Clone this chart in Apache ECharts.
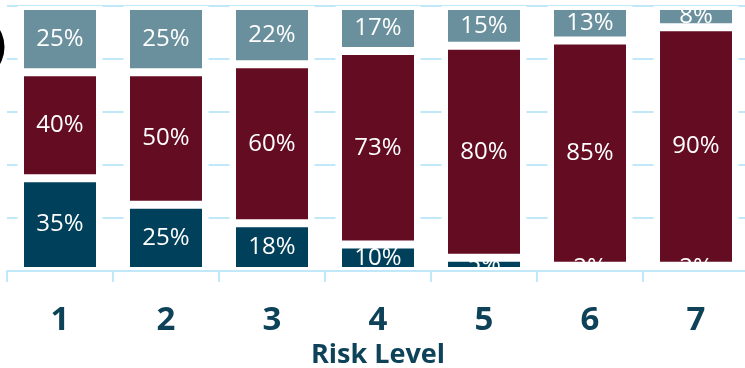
<!DOCTYPE html>
<html><head><meta charset="utf-8">
<script src="https://cdn.jsdelivr.net/npm/echarts@6/dist/echarts.min.js"></script>
<style>html,body{margin:0;padding:0;background:#fff;}#c{width:745px;height:368px;}</style>
</head><body><div id="c"></div>
<script>
var categories = ['1','2','3','4','5','6','7'];
var lowValues = [35, 25, 18, 10, 5, 2, 2];
var midValues = [40, 50, 60, 73, 80, 85, 90];
var highValues = [25, 25, 22, 17, 15, 13, 8];
var haloValues = [100, 100, 100, 100, 100, 100, 100];
var axisName = 'Risk Level';

var chart = echarts.init(document.getElementById('c'), null, {renderer: 'canvas'});
var labelFont = {show: true, position: 'inside', color: '#ffffff', fontSize: 24, fontFamily: 'Open Sans', formatter: '{c}%'};
function seg(name, data, color) {
  return {
    name: name, type: 'bar', stack: 'total', data: data, barWidth: 80, xAxisIndex: 0,
    itemStyle: {color: color, borderColor: '#ffffff', borderWidth: 4},
    label: labelFont, z: 3
  };
}
chart.setOption({
  animation: false,
  backgroundColor: '#ffffff',
  grid: {left: 7, right: -4, top: 6, bottom: 97, containLabel: false, outerBoundsMode: 'none'},
  xAxis: [{
    type: 'category', data: categories, z: 5,
    axisLine: {show: true, lineStyle: {color: '#c0e8f8', width: 2}},
    axisTick: {show: true, length: 11, lineStyle: {color: '#c0e8f8', width: 2}},
    axisLabel: {color: '#0d4259', fontSize: 33, fontWeight: 'bold', fontFamily: 'Open Sans', margin: 33},
    name: axisName, nameLocation: 'middle', nameGap: 70,
    nameTextStyle: {color: '#0d4259', fontSize: 27, fontWeight: 'bold', fontFamily: 'Open Sans'}
  }, {
    type: 'category', data: categories, show: false
  }],
  yAxis: {
    type: 'value', min: 0, max: 100, interval: 20,
    axisLabel: {show: false}, axisLine: {show: false}, axisTick: {show: false},
    splitLine: {show: true, lineStyle: {color: '#c0e8f8', width: 2}}
  },
  graphic: [{type: 'circle', shape: {cx: -30, cy: 47, r: 34.5}, style: {fill: '#000000'}, z: 10}],
  series: [
    {name: 'halo', type: 'bar', data: haloValues, xAxisIndex: 1, barWidth: 85,
     itemStyle: {color: '#ffffff'}, silent: true, z: 2},
    seg('low', lowValues, '#00405a'),
    seg('mid', midValues, '#640c22'),
    seg('high', highValues, '#6b909d')
  ]
});
</script></body></html>
